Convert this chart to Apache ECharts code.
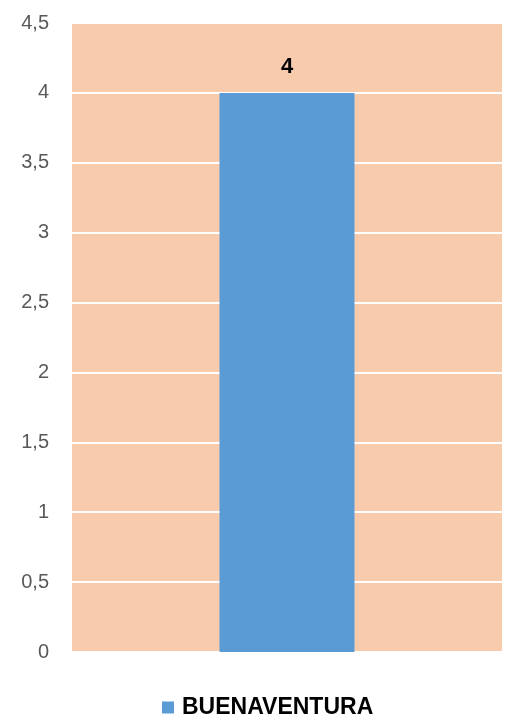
<!DOCTYPE html>
<html><head><meta charset="utf-8">
<script src="https://cdn.jsdelivr.net/npm/echarts@6/dist/echarts.min.js"></script>
<style>html,body{margin:0;padding:0;background:#fff}#c{width:513px;height:721px}</style>
</head><body><div id="c"></div>
<script>
var categories = ['BUENAVENTURA'];
var seriesName = 'BUENAVENTURA';
var values = [4];
var chart = echarts.init(document.getElementById('c'), null, {renderer:'canvas'});
chart.setOption({
  animation:false,
  grid:{left:72,right:11,top:23,bottom:69,show:true,backgroundColor:'#F8CBAD',borderWidth:0},
  legend:{data:[seriesName],left:157,top:691,icon:'rect',itemWidth:12,itemHeight:12,itemGap:6,
    textStyle:{fontFamily:'Liberation Sans, Arial',fontWeight:'bold',fontSize:23,color:'#000',padding:[0,0,0,3]}},
  xAxis:{type:'category',data:categories,axisLine:{show:false},axisTick:{show:false},axisLabel:{show:false}},
  yAxis:{type:'value',min:0,max:4.5,interval:0.5,
    axisLine:{show:false},axisTick:{show:false},
    splitLine:{lineStyle:{color:'#ffffff',width:2}},
    axisLabel:{margin:23,color:'#595959',fontSize:20,fontFamily:'Liberation Sans, Arial',
      formatter:function(v){return String(v).replace('.',',');}}},
  series:[{name:seriesName,type:'bar',data:values,barWidth:135,
    itemStyle:{color:'#5B9BD5'},
    label:{show:true,position:'top',distance:15,fontFamily:'Liberation Sans, Arial',fontWeight:'bold',fontSize:22,color:'#000'}}]
});
</script></body></html>
